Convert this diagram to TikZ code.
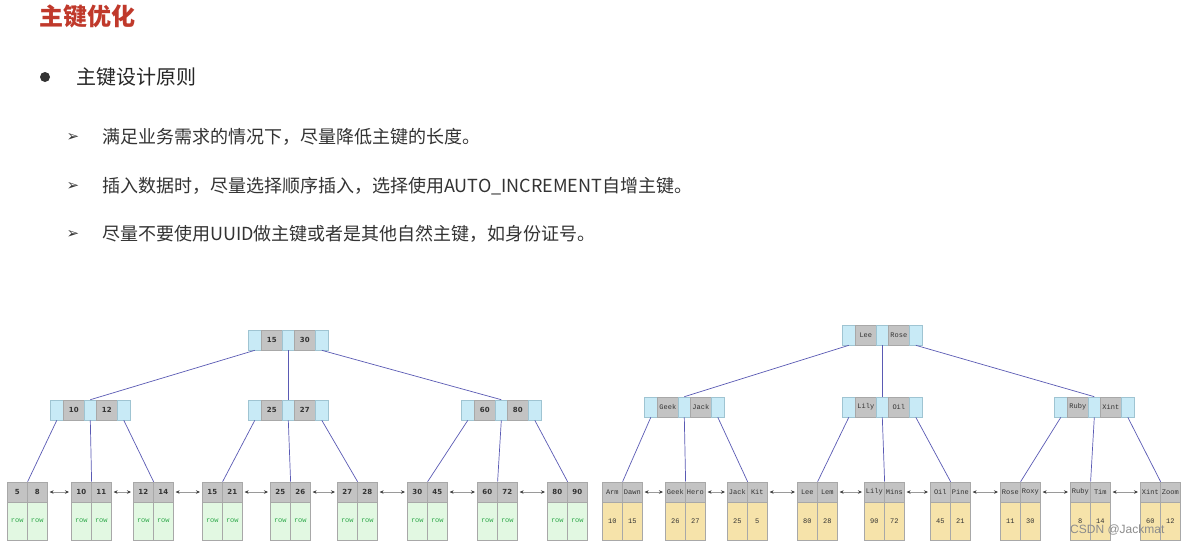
\documentclass[tikz,border=0pt]{standalone}
\usepackage{fontspec}
\newfontfamily\cjk{Noto Sans CJK SC}
\newfontfamily\dv{DejaVu Sans}
\newfontfamily\mono{Liberation Mono}
\newfontfamily\wmfont{Liberation Sans}
\usetikzlibrary{arrows.meta}
\definecolor{titlered}{HTML}{C0392B}
\definecolor{cellblue}{HTML}{C8EAF6}
\definecolor{cellblueedge}{HTML}{9FC4D2}
\definecolor{cellgray}{HTML}{C3C3C3}
\definecolor{cellgrayedge}{HTML}{A8A8A8}
\definecolor{edgeblue}{HTML}{5A5AB4}
\definecolor{leafgreen}{HTML}{E2F8E2}
\definecolor{leafyellow}{HTML}{F6E3AA}
\definecolor{rowgreen}{HTML}{2EA84A}
\definecolor{txt}{HTML}{333333}
\definecolor{arrowgray}{HTML}{9A9A9A}
\tikzset{
  bcell/.style={draw=cellblueedge, fill=cellblue, inner sep=0pt, minimum height=20pt, anchor=west, line width=0.6pt},
  kcell/.style={draw=cellgrayedge, fill=cellgray, inner sep=0pt, minimum height=20pt, anchor=west, line width=0.6pt, text=txt},
  hcell/.style={draw=cellgrayedge, fill=cellgray, inner sep=0pt, minimum height=20pt, minimum width=20pt, anchor=west, line width=0.6pt, text=txt},
  dcell/.style={draw=cellgrayedge, fill=#1, inner sep=0pt, minimum height=38pt, minimum width=20pt, anchor=west, line width=0.6pt},
  numfont/.style={font=\dv\bfseries\fontsize{7}{8}\selectfont},
  namefont/.style={font=\mono\fontsize{7}{8}\selectfont},
  rowfont/.style={font=\mono\fontsize{7}{8}\selectfont, text=rowgreen},
  valfont/.style={font=\mono\fontsize{7}{8}\selectfont, text=txt},
  edge/.style={draw=edgeblue, line width=0.7pt},
  leaflink/.style={draw=arrowgray, line width=0.6pt, shorten <=2pt, shorten >=2pt,
     {Stealth[length=4pt,width=3.5pt,color=black!75]}-{Stealth[length=4pt,width=3.5pt,color=black!75]}},
}
% internal node: name, x-left, y-center, key1, key2, font style
\newcommand\bpnode[6]{%
  \node[bcell, minimum width=13pt] (#1-b1) at (#2,#3) {};
  \node[kcell, minimum width=21pt, #6] (#1-k1) at (#2+13,#3) {#4};
  \node[bcell, minimum width=12pt] (#1-b2) at (#2+34,#3) {};
  \node[kcell, minimum width=21pt, #6] (#1-k2) at (#2+46,#3) {#5};
  \node[bcell, minimum width=13pt] (#1-b3) at (#2+67,#3) {};
}
% leaf: name, x-left, key1, key2, val1, val2, fill, keystyle, valstyle
\newcommand\bpleaf[9]{%
  \node[hcell, #8] (#1-h1) at (#2,492) {#3};
  \node[hcell, #8] (#1-h2) at (#2+20,492) {#4};
  \node[dcell=#7, #9] (#1-d1) at (#2,521) {#5};
  \node[dcell=#7, #9] (#1-d2) at (#2+20,521) {#6};
}
\begin{document}
\begin{tikzpicture}[x=1pt, y=-1pt]
\useasboundingbox[fill=white] (0,0) rectangle (1182,544);

% ---- text ----
\node[anchor=west, inner sep=0pt, text=titlered, font=\cjk\bfseries\fontsize{24}{28}\selectfont] (title) at (39,16) {主键优化};
\node[circle, fill=txt, minimum size=10pt, inner sep=0pt] (bullet) at (45,77) {};
\node[anchor=west, inner sep=0pt, text=black!85, font=\cjk\fontsize{20}{24}\selectfont] (head) at (76,77) {主键设计原则};
\foreach \yy/\tt [count=\i] in {137/{满足业务需求的情况下，尽量降低主键的长度。},
                  186/{插入数据时，尽量选择顺序插入，选择使用AUTO\_INCREMENT自增主键。},
                  234/{尽量不要使用UUID做主键或者是其他自然主键，如身份证号。}}{
  \node[inner sep=0pt, text=black!80, font=\dv\fontsize{15}{16}\selectfont] (arr\i) at (73,\yy) {➢};
  \node[anchor=west, inner sep=0pt, text=black!80, font=\cjk\fontsize{18}{21}\selectfont] (item\i) at (102,\yy) {\tt};
}

% ---- left tree ----
\bpnode{LR}{248}{340}{15}{30}{numfont}
\bpnode{LA}{50}{410}{10}{12}{numfont}
\bpnode{LB}{248}{410}{25}{27}{numfont}
\bpnode{LC}{461}{410}{60}{80}{numfont}

\bpleaf{la1}{7}{5}{8}{row}{row}{leafgreen}{numfont}{rowfont}
\bpleaf{la2}{71}{10}{11}{row}{row}{leafgreen}{numfont}{rowfont}
\bpleaf{la3}{133}{12}{14}{row}{row}{leafgreen}{numfont}{rowfont}
\bpleaf{lb1}{202}{15}{21}{row}{row}{leafgreen}{numfont}{rowfont}
\bpleaf{lb2}{270}{25}{26}{row}{row}{leafgreen}{numfont}{rowfont}
\bpleaf{lb3}{337}{27}{28}{row}{row}{leafgreen}{numfont}{rowfont}
\bpleaf{lc1}{407}{30}{45}{row}{row}{leafgreen}{numfont}{rowfont}
\bpleaf{lc2}{477}{60}{72}{row}{row}{leafgreen}{numfont}{rowfont}
\bpleaf{lc3}{547}{80}{90}{row}{row}{leafgreen}{numfont}{rowfont}

\draw[edge] (LR-b1.south) -- (LA-b2.north);
\draw[edge] (LR-b2.south) -- (LB-b2.north);
\draw[edge] (LR-b3.south) -- (LC-b2.north);
\foreach \p/\q in {LA/la, LB/lb, LC/lc}{
  \draw[edge] (\p-b1.south) -- (\q1-h1.north east);
  \draw[edge] (\p-b2.south) -- (\q2-h1.north east);
  \draw[edge] (\p-b3.south) -- (\q3-h1.north east);
}
\foreach \a/\b in {la1/la2, la2/la3, la3/lb1, lb1/lb2, lb2/lb3, lb3/lc1, lc1/lc2, lc2/lc3}{
  \draw[leaflink] (\a-h2.east) -- (\b-h1.west);
}

% ---- right tree ----
\bpnode{RR}{842}{335}{Lee}{Rose}{namefont}
\bpnode{RA}{644}{407}{Geek}{Jack}{namefont}
\bpnode{RB}{842}{407}{Lily}{Oil}{namefont}
\bpnode{RC}{1054}{407}{Ruby}{Xint}{namefont}

\bpleaf{ra1}{602}{Arm}{Dawn}{10}{15}{leafyellow}{namefont}{valfont}
\bpleaf{ra2}{665}{Geek}{Hero}{26}{27}{leafyellow}{namefont}{valfont}
\bpleaf{ra3}{727}{Jack}{Kit}{25}{5}{leafyellow}{namefont}{valfont}
\bpleaf{rb1}{797}{Lee}{Lem}{80}{28}{leafyellow}{namefont}{valfont}
\bpleaf{rb2}{864}{Lily}{Mins}{90}{72}{leafyellow}{namefont}{valfont}
\bpleaf{rb3}{930}{Oil}{Pine}{45}{21}{leafyellow}{namefont}{valfont}
\bpleaf{rc1}{1000}{Rose}{Roxy}{11}{30}{leafyellow}{namefont}{valfont}
\bpleaf{rc2}{1070}{Ruby}{Tim}{8}{14}{leafyellow}{namefont}{valfont}
\bpleaf{rc3}{1140}{Xint}{Zoom}{60}{12}{leafyellow}{namefont}{valfont}

\draw[edge] (RR-b1.south) -- (RA-b2.north);
\draw[edge] (RR-b2.south) -- (RB-b2.north);
\draw[edge] (RR-b3.south) -- (RC-b2.north);
\foreach \p/\q in {RA/ra, RB/rb, RC/rc}{
  \draw[edge] (\p-b1.south) -- (\q1-h1.north east);
  \draw[edge] (\p-b2.south) -- (\q2-h1.north east);
  \draw[edge] (\p-b3.south) -- (\q3-h1.north east);
}
\foreach \a/\b in {ra1/ra2, ra2/ra3, ra3/rb1, rb1/rb2, rb2/rb3, rb3/rc1, rc1/rc2, rc2/rc3}{
  \draw[leaflink] (\a-h2.east) -- (\b-h1.west);
}

% watermark
\node[anchor=west, inner sep=0pt, text=black!45, font=\wmfont\fontsize{12}{13}\selectfont] (wm) at (1070,530) {CSDN @Jackmat};
\end{tikzpicture}
\end{document}
